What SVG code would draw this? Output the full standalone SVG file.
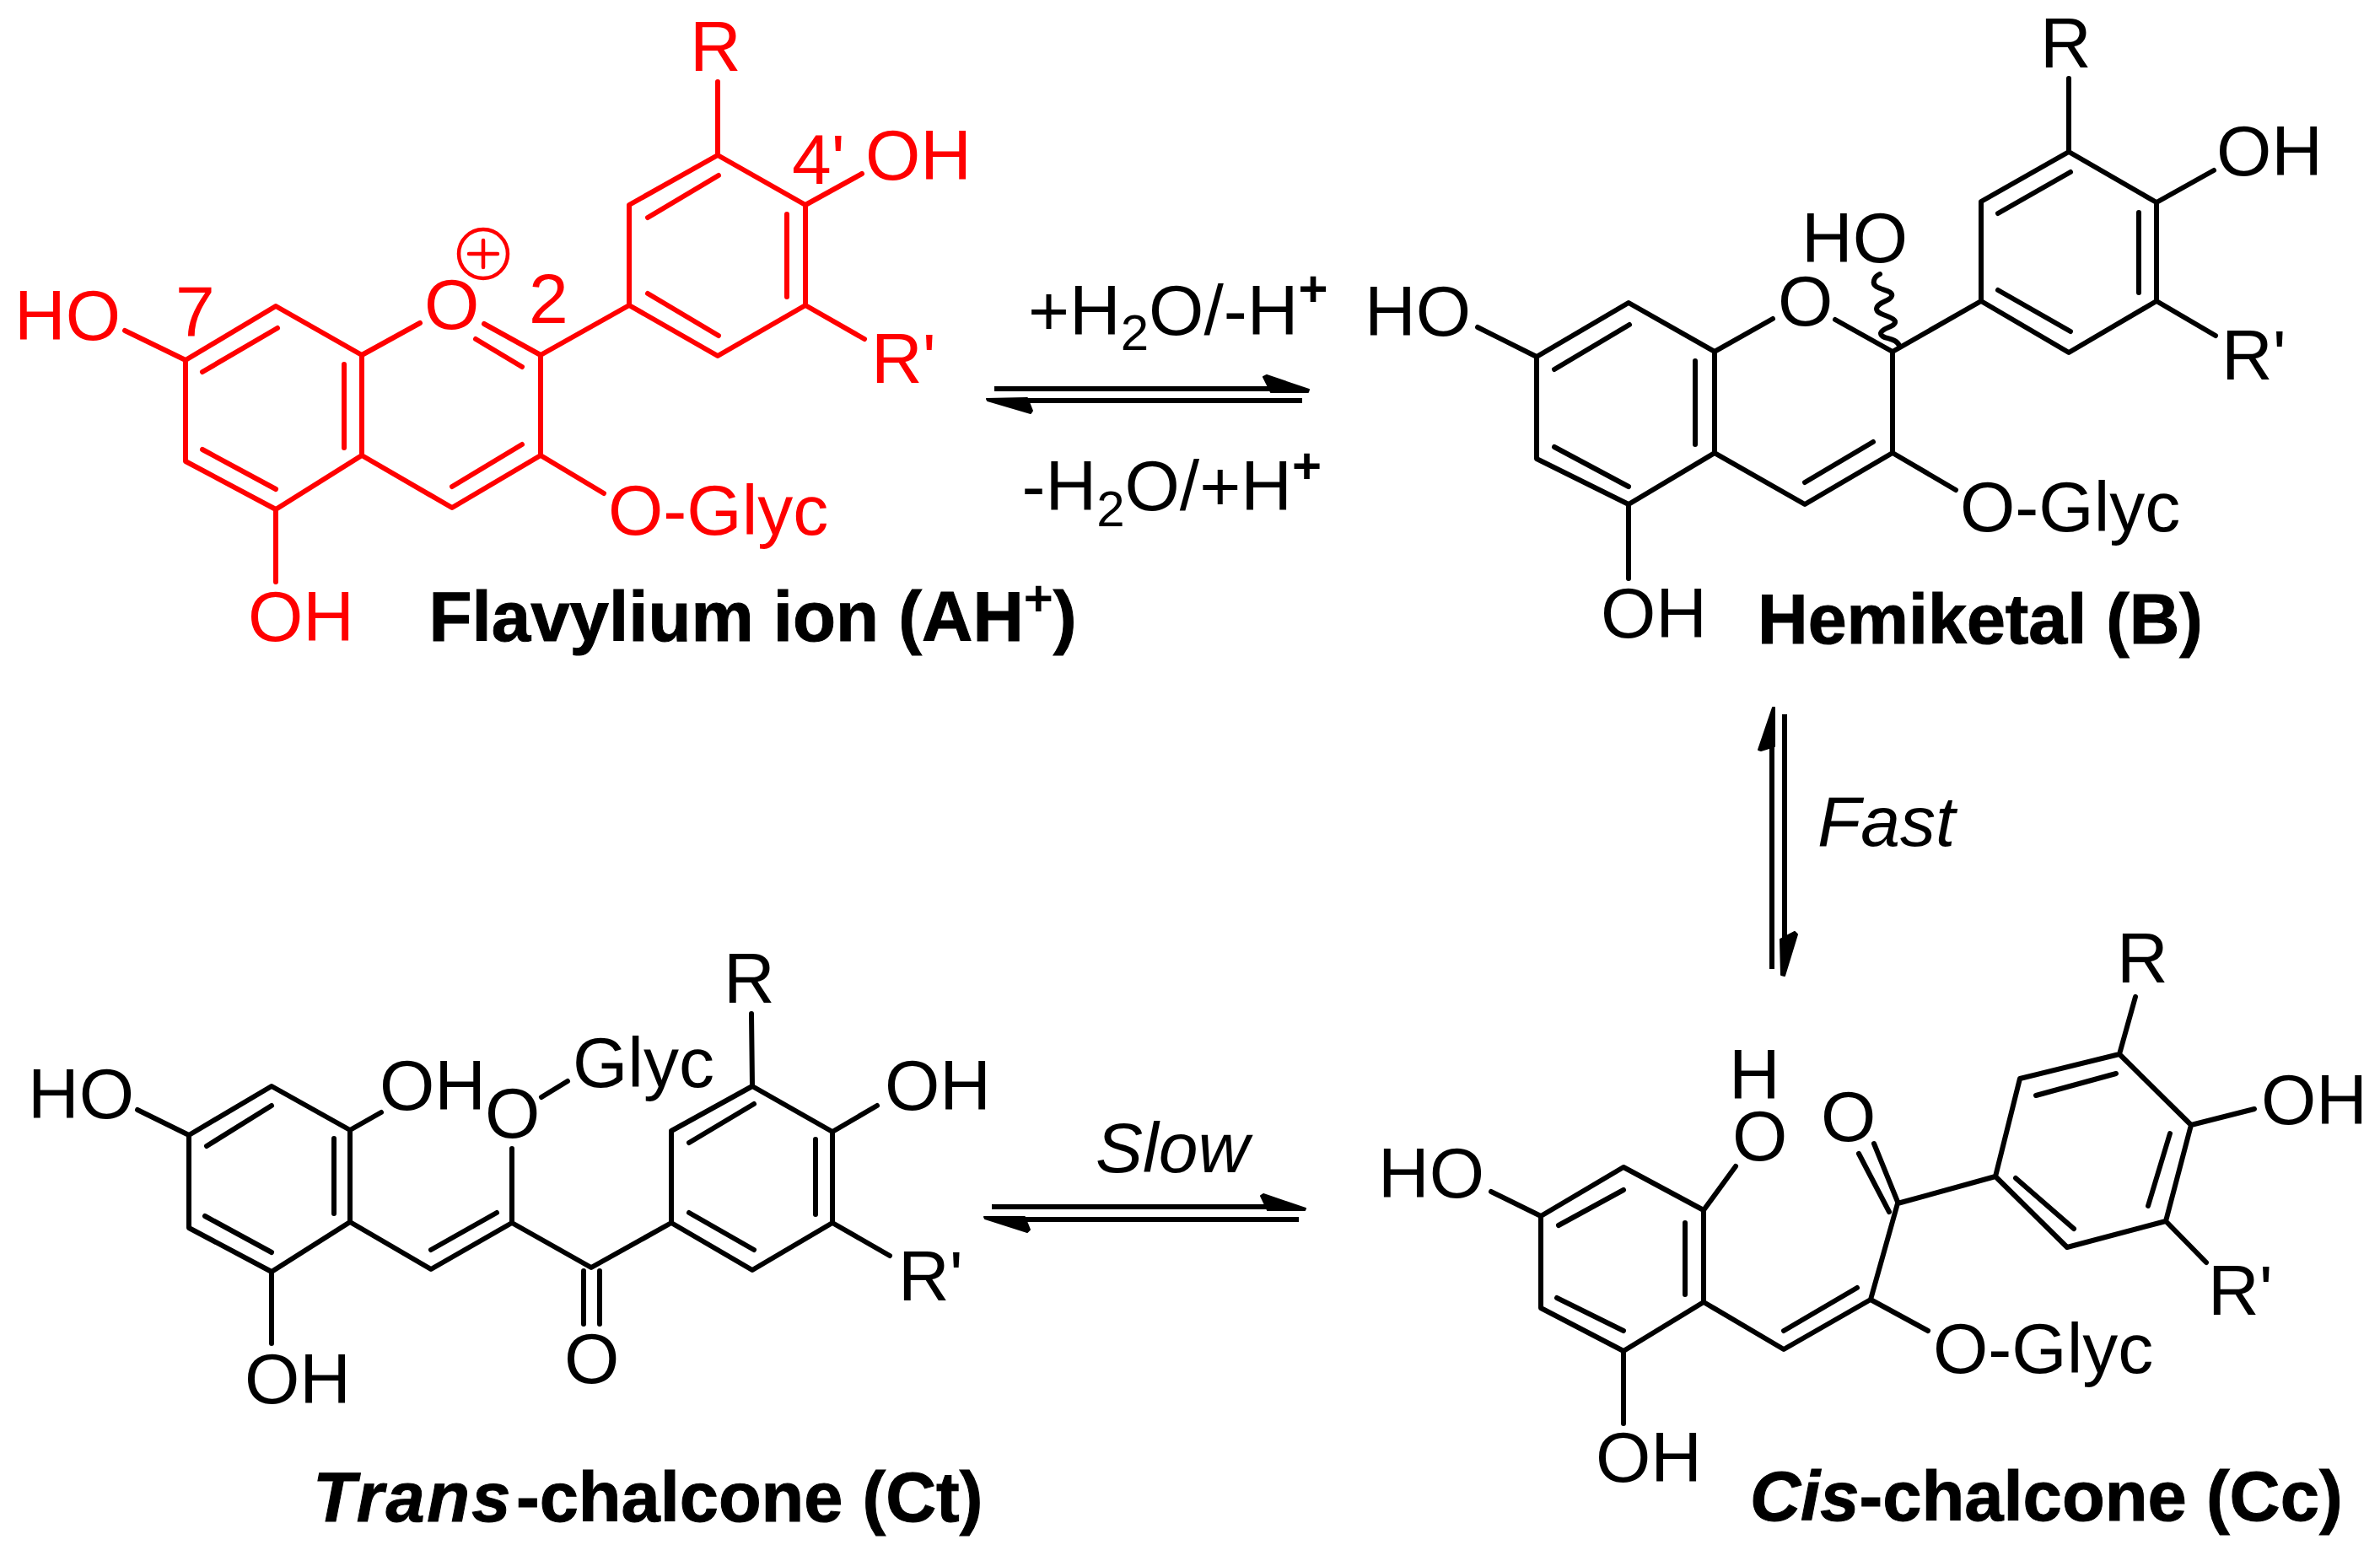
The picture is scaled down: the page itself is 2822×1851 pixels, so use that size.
<svg xmlns="http://www.w3.org/2000/svg" width="2822" height="1851" viewBox="0 0 2822 1851">
<style>
text{font-family:"Liberation Sans",Arial,sans-serif;font-size:84px;fill:#000}
path.b{fill:none;stroke:#000;stroke-width:6;stroke-linecap:round;stroke-linejoin:round}
.red text{fill:#f00}
.red path.b{stroke:#f00}
.thin{stroke-width:5}
.name{font-weight:bold;stroke:#000;stroke-width:1}
.it{font-style:italic}
.sup{font-size:60px;font-weight:bold}
.sub{font-size:60px}
.h{fill:#000;stroke:#000;stroke-width:2;stroke-linejoin:round}
.s{fill:none;stroke:#000;stroke-width:6}
</style>
<rect width="2822" height="1851" fill="#fff"/>
<g id="flavylium" class="red">
<path class="b" d="M220 427L327 363L429 421L429 540L327 604L220 547ZM240 441L329 389M408 432L408 531M240 533L327 580M429 421L498 383M574 384L641 421L641 540L536 602L429 540M564 402L619 435M619 527L536 577M641 540L716 585M641 421L746 362L746 243L851 184L955 243L955 362L851 422L746 362M768 258L852 208M933 254L933 352M768 348L852 398M851 184L851 97M955 243L1022 206M955 362L1025 402M220 427L148 392M327 604L327 690"/>
<circle cx="573" cy="301" r="29" fill="none" stroke="#f00" stroke-width="4.5"/>
<path class="b" style="stroke-width:4.5" d="M556 301H590M573 285V317"/>
<text x="818" y="84">R</text>
<text x="939" y="218">4'</text>
<text x="1026" y="213">OH</text>
<text x="503" y="390">O</text>
<text x="627" y="383">2</text>
<text x="17" y="403">HO</text>
<text x="208" y="398">7</text>
<text x="1033" y="454">R'</text>
<text x="721" y="634">O-Glyc</text>
<text x="294" y="760">OH</text>
</g>
<text id="label-flavylium" class="name" style="font-size:83.5px" x="508.500" y="760">Flavylium ion (AH<tspan class="sup" style="stroke-width:0" dy="-30">+</tspan><tspan dy="30">)</tspan></text>
<g id="hemiketal">
<path class="b" d="M1822 423L1931 359L2033 417L2033 537L1931 598L1822 544ZM1843 438L1932 385M2010 428L2010 527M1843 530L1931 577M2033 417L2102 378M2176 379L2244 417L2244 537L2140 598L2033 537M2221 524L2140 572M2244 537L2319 581M2244 417L2349 357L2349 239L2453 180L2557 240L2557 357L2453 418L2349 357M2369 253L2455 204M2536 252L2536 347M2369 344L2455 393M2453 180L2453 93M2557 240L2625 202M2557 357L2627 398M1822 423L1752 388M1931 598L1931 686"/>
<path class="b thin" d="M2229 325C2222 328 2219 336 2225 340C2232 344 2245 345 2243 351C2242 357 2226 358 2225 366C2225 374 2244 374 2247 381C2248 388 2232 388 2230 395C2230 403 2248 399 2252 410"/>
<text x="2419" y="80">R</text>
<text x="2628" y="208">OH</text>
<text x="2136" y="311">HO</text>
<text x="2108" y="386">O</text>
<text x="1618" y="398">HO</text>
<text x="2634" y="450">R'</text>
<text x="2324" y="630">O-Glyc</text>
<text x="1898" y="756">OH</text>
</g>
<text id="label-hemiketal" class="name" style="font-size:82.6px" x="2084" y="763">Hemiketal (B)</text>
<g id="trans-chalcone">
<path class="b" d="M224 1346L322 1288L415 1340L415 1449L322 1508L224 1456ZM245 1359L322 1311M396 1350L396 1439M243 1442L322 1485M415 1340L452 1319M224 1346L163 1316M322 1508L322 1593M415 1449L511 1505L607 1450L701 1503L796 1450L796 1341L892 1288L987 1342L987 1450L892 1506L796 1450M511 1482L589 1438M607 1450L607 1362M642 1301L673 1282M692 1507L692 1570M711 1507L711 1570M817 1355L894 1309M967 1351L967 1440M817 1438L894 1482M892 1288L891 1202M987 1342L1040 1311M987 1450L1055 1489"/>
<text x="33" y="1326">HO</text>
<text x="450" y="1316">OH</text>
<text x="575" y="1349">O</text>
<text x="679" y="1289">Glyc</text>
<text x="858" y="1189">R</text>
<text x="1049" y="1316">OH</text>
<text x="1065" y="1542">R'</text>
<text x="669" y="1640">O</text>
<text x="290" y="1664">OH</text>
</g>
<text id="label-trans" class="name" style="font-size:83px" x="371" y="1804"><tspan class="it" style="letter-spacing:2.5px">Trans</tspan><tspan x="612">-chalcone (Ct)</tspan></text>
<g id="cis-chalcone">
<path class="b" d="M1827 1442L1925 1384L2020 1435L2020 1544L1925 1602L1827 1551ZM1848 1453L1925 1411M1998 1450L1998 1535M1846 1539L1925 1578M1827 1442L1768 1413M2020 1435L2058 1383M1925 1602L1925 1688M2020 1544L2115 1600L2218 1541L2250 1427L2366 1395L2395 1279L2513 1250L2598 1334L2568 1448L2451 1479L2366 1395M2115 1578L2202 1527M2222 1356L2250 1425M2204 1368L2240 1437M2414 1299L2509 1273M2573 1344L2547 1430M2390 1397L2459 1457M2513 1250L2532 1182M2598 1334L2673 1315M2568 1448L2616 1497M2218 1541L2286 1578"/>
<text x="2054" y="1376">O</text>
<text x="2050" y="1303">H</text>
<text x="1634" y="1420">HO</text>
<text x="2159" y="1353">O</text>
<text x="1892" y="1757">OH</text>
<text x="2510" y="1165">R</text>
<text x="2681" y="1333">OH</text>
<text x="2618" y="1559">R'</text>
<text x="2292" y="1628">O-Glyc</text>
</g>
<text id="label-cis" class="name" style="font-size:83.2px" x="2075" y="1803"><tspan class="it">Cis</tspan>-chalcone (Cc)</text>
<g id="connectors">
<path class="s" d="M1179 461H1510M1212 475H1544"/>
<path class="h" d="M1498 447L1502 445L1552 462L1551 465L1507 465Z"/>
<path class="h" d="M1170 473L1218 472L1224 487L1222 490L1171 475Z"/>
<path class="s" d="M2101 880V1149M2116 847V1120"/>
<path class="h" d="M2102 839L2104 839L2104 885L2088 890L2085 889Z"/>
<path class="h" d="M2111 1114L2128 1105L2131 1108L2116 1157L2112 1156Z"/>
<path class="s" d="M1176 1431H1510M1210 1446H1540"/>
<path class="h" d="M1495 1418L1498 1416L1548 1433L1547 1435L1503 1435Z"/>
<path class="h" d="M1167 1443L1215 1443L1221 1458L1218 1461L1168 1445Z"/>
</g>
<text id="label-water-add" x="1219" y="397">+H<tspan class="sub" dy="18">2</tspan><tspan dy="-18">O/-H</tspan><tspan class="sup" dy="-34">+</tspan></text>
<text id="label-water-loss" x="1211.500" y="605">-H<tspan class="sub" dy="19">2</tspan><tspan dy="-19">O/+H</tspan><tspan class="sup" dy="-32">+</tspan></text>
<text id="label-fast" class="it" x="2155" y="1003">Fast</text>
<text id="label-slow" class="it" x="1299" y="1390">Slow</text>
</svg>
